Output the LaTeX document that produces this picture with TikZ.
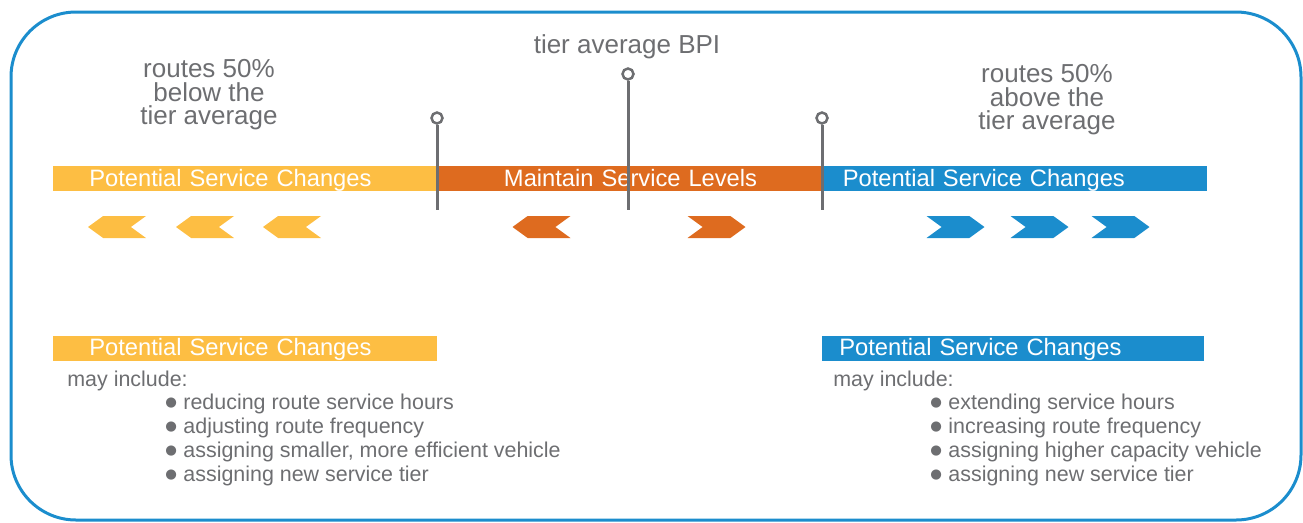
\documentclass[tikz,border=0pt]{standalone}
\usepackage{fontspec}
\setmainfont{Liberation Sans}
\newfontfamily\dotfont{DejaVu Sans}
\usetikzlibrary{shapes.symbols}
\definecolor{tierYellow}{HTML}{FDBE43}
\definecolor{tierOrange}{HTML}{DE6B1F}
\definecolor{tierBlue}{HTML}{1B8DCD}
\definecolor{tierGray}{HTML}{6D6E71}
\newcommand{\pxu}{0.02cm}
\newcommand{\itemdot}{\raisebox{1.3pt}{\dotfont\fontsize{7.6}{8}\selectfont ●}\hspace{0.3em}}
\tikzset{
  bar/.style={inner ysep=0pt, minimum height=25*\pxu, text=white,
    text height=0.9em, text depth=0pt, anchor=west, align=left,
    font=\fontsize{13.5}{16}\selectfont},
  chevron/.style={signal, inner sep=0pt, minimum width=58*\pxu,
    minimum height=22*\pxu, signal pointer angle=72},
  pinhead/.style={circle, draw=tierGray, fill=white, line width=2.5*\pxu,
    inner sep=0pt, minimum size=11*\pxu},
  pinline/.style={draw=tierGray, line width=3*\pxu},
  caption/.style={text=tierGray, align=center,
    font=\fontsize{14.8}{13.4}\selectfont},
  listtext/.style={text=tierGray, inner sep=0pt, anchor=base west,
    font=\fontsize{12.2}{13.66}\selectfont}
}
\begin{document}
\begin{tikzpicture}[x=0.02cm,y=-0.02cm]
  \useasboundingbox (0,0) rectangle (1303,522);
  % outer frame
  \draw[tierBlue, line width=3*\pxu, rounded corners=1.3cm]
    (11,12) rectangle (1301,520);
  % top scale bar
  \node[bar, fill=tierYellow, inner xsep=36*\pxu, text width=312*\pxu]
    (low) at (53,178.5) {Potential Service Changes};
  \node[bar, fill=tierOrange, inner xsep=0pt, text width=385*\pxu, align=center]
    (mid) at (low.east) {Maintain Service Levels};
  \node[bar, fill=tierBlue, inner xsep=19*\pxu, text width=345*\pxu]
    (high) at (mid.east) {Potential Service Changes};
  % pins
  \foreach \x/\y [count=\i] in {437/118,628/74,822/118} {
    \coordinate (e\i) at (\x,210);
    \node[pinhead] (pin\i) at (\x,\y) {};
    \draw[pinline] (pin\i.south) -- (e\i);
  }
  % chevrons
  \foreach \x [count=\i] in {117,205,292}
    \node[chevron, fill=tierYellow, signal to=west, signal from=east]
      (cy\i) at (\x,227) {};
  \node[chevron, fill=tierOrange, signal to=west, signal from=east]
    (co1) at (541.5,227) {};
  \node[chevron, fill=tierOrange, signal to=east, signal from=west]
    (co2) at (716.5,227) {};
  \foreach \x [count=\i] in {955.5,1039.5,1120.5}
    \node[chevron, fill=tierBlue, signal to=east, signal from=west]
      (cb\i) at (\x,227) {};
  % captions
  \node[caption] (below) at (209,95) {routes 50\%\\below the\\tier average};
  \node[caption] (bpi) at (627,47) {tier average BPI};
  \node[caption] (above) at (1047,100) {routes 50\%\\above the\\tier average};
  % lower boxes
  \node[bar, fill=tierYellow, inner xsep=36*\pxu, text width=312*\pxu]
    (lowbox) at (53,348) {Potential Service Changes};
  \node[bar, fill=tierBlue, inner xsep=17*\pxu, text width=348*\pxu]
    (highbox) at (822,348) {Potential Service Changes};
  \node[listtext] (lowinc) at (67,386) {may include:};
  \node[listtext] (highinc) at (833,386) {may include:};
  \foreach \t [count=\i] in {reducing route service hours,
      adjusting route frequency, {assigning smaller, more efficient vehicle},
      assigning new service tier}
    \node[listtext] (ll\i) at (165,{385+24*\i}) {\itemdot\t};
  \foreach \t [count=\i] in {extending service hours,
      increasing route frequency, assigning higher capacity vehicle,
      assigning new service tier}
    \node[listtext] (hl\i) at (930,{385+24*\i}) {\itemdot\t};
\end{tikzpicture}
\end{document}
